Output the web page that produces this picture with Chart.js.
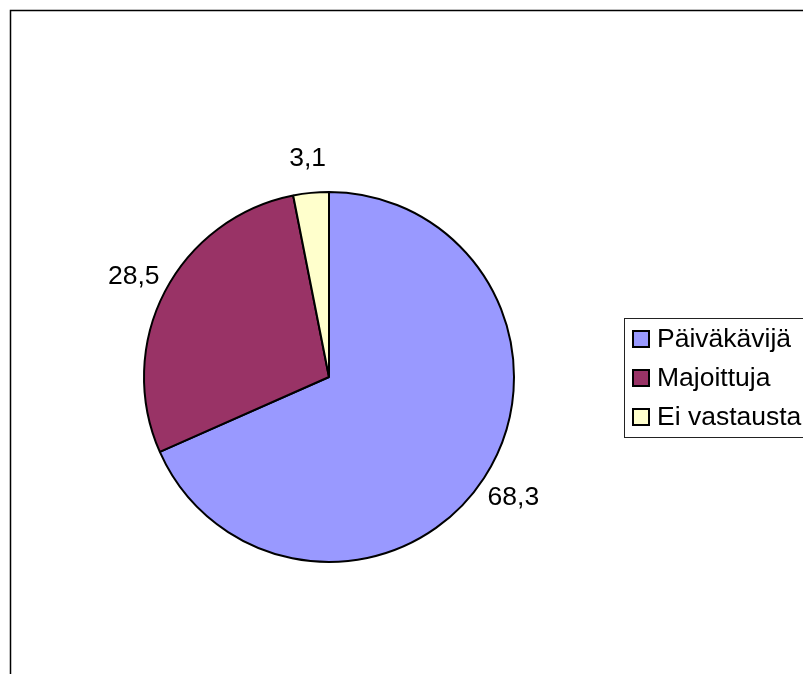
<!DOCTYPE html>
<html>
<head>
<meta charset="utf-8">
<script src="https://cdn.jsdelivr.net/npm/chart.js@4/dist/chart.umd.min.js"></script>
<style>
  body { margin: 0; background: #fff; }
  canvas { display: block; }
</style>
</head>
<body>
<canvas id="kavijat" width="803" height="674"></canvas>
<script>
// visitor types
const categories = ['Päiväkävijä', 'Majoittuja', 'Ei vastausta'];
const shares = [68.3, 28.5, 3.1];
const sliceColors = ['#9999FF', '#993366', '#FFFFCC'];

const FONT = '26.5px "Liberation Sans", Arial, sans-serif';

// outer frame + legend box on the right
const framePlugin = {
  id: 'frame',
  beforeDraw(chart) {
    const ctx = chart.ctx;
    ctx.save();
    ctx.strokeStyle = '#000';
    ctx.lineWidth = 1.5;
    ctx.strokeRect(10.5, 10.5, 820, 700);
    ctx.restore();
  },
  afterDraw(chart) {
    const ctx = chart.ctx;
    ctx.save();
    ctx.strokeStyle = '#222';
    ctx.lineWidth = 1;
    ctx.fillStyle = '#fff';
    ctx.fillRect(624.5, 318.5, 200, 119);
    ctx.strokeRect(624.5, 318.5, 200, 119);
    ctx.font = FONT;
    ctx.textBaseline = 'middle';
    categories.forEach((name, i) => {
      const y = 339 + i * 39;
      ctx.fillStyle = sliceColors[i];
      ctx.fillRect(633, y - 8, 16, 16);
      ctx.lineWidth = 2;
      ctx.strokeStyle = '#000';
      ctx.strokeRect(633, y - 8, 16, 16);
      ctx.fillStyle = '#000';
      ctx.fillText(name, 657, y + 1);
    });
    ctx.restore();
  }
};

// value labels just outside each slice
const valueLabels = {
  id: 'valueLabels',
  afterDatasetsDraw(chart) {
    const ctx = chart.ctx;
    const meta = chart.getDatasetMeta(0);
    ctx.save();
    ctx.font = FONT;
    ctx.fillStyle = '#000';
    ctx.textAlign = 'center';
    ctx.textBaseline = 'middle';
    meta.data.forEach((arc, i) => {
      const p = arc.getProps(['x', 'y', 'startAngle', 'endAngle', 'outerRadius'], true);
      const mid = (p.startAngle + p.endAngle) / 2;
      const r = p.outerRadius + 35;
      const label = shares[i].toFixed(1).replace('.', ',');
      ctx.fillText(label, p.x + Math.cos(mid) * r, p.y + Math.sin(mid) * r + 1);
    });
    ctx.restore();
  }
};

new Chart(document.getElementById('kavijat'), {
  type: 'pie',
  data: {
    labels: categories,
    datasets: [{
      data: shares,
      backgroundColor: sliceColors,
      borderColor: '#000',
      borderWidth: 2
    }]
  },
  options: {
    responsive: false,
    animation: false,
    layout: {
      padding: { left: 143, right: 288, top: 191, bottom: 111 }
    },
    plugins: {
      legend: { display: false },
      tooltip: { enabled: false }
    }
  },
  plugins: [framePlugin, valueLabels]
});
</script>
</body>
</html>
